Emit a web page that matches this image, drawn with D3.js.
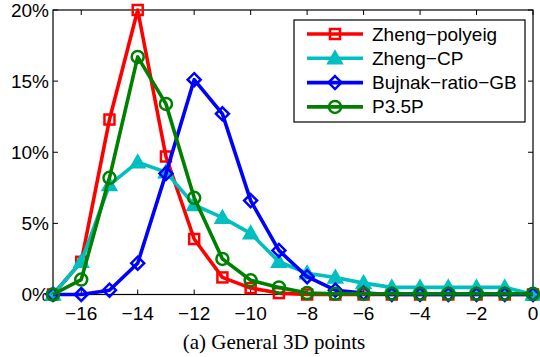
<!DOCTYPE html>
<html><head><meta charset="utf-8">
<script src="https://cdn.jsdelivr.net/npm/d3@7"></script>
<style>body{margin:0;background:#fff}svg{display:block}</style>
</head><body>
<script>
const xs = [-17,-16,-15,-14,-13,-12,-11,-10,-9,-8,-7,-6,-5,-4,-3,-2,-1,0];
const zhengPolyeig = [0,2.3,12.3,20,9.7,3.9,1.2,0.45,0.1,0,0,0,0,0,0,0,0,0];
const zhengCP      = [0,2.3,7.7,9.3,8.6,6.3,5.4,4.3,2.3,1.5,1.2,0.8,0.5,0.5,0.5,0.5,0.5,0];
const bujnak       = [0,0,0.3,2.2,8.5,15.1,12.7,6.6,3.1,1.25,0.3,0.1,0,0,0,0,0,0];
const p35p         = [0,1.05,8.2,16.7,13.4,6.8,2.5,1.0,0.5,0.1,0.05,0.05,0.05,0.05,0.05,0.05,0.05,0.05];
const seriesNames = ["Zheng\u2212polyeig","Zheng\u2212CP","Bujnak\u2212ratio\u2212GB","P3.5P"];
const seriesColors = ["#ff0000","#00bfbf","#0000ff","#008000"];
const seriesMarkers = ["square","triangle","diamond","circle"];
const xTicks = [-16,-14,-12,-10,-8,-6,-4,-2,0];
const yTicks = [0,5,10,15,20];
const caption = "(a) General 3D points";

const W=540,H=357;
const m={l:53,r:7,t:10,b:62.5};
const svg=d3.select("body").append("svg").attr("width",W).attr("height",H);
const x=d3.scaleLinear().domain([-17,0]).range([m.l,W-m.r]);
const y=d3.scaleLinear().domain([0,20]).range([H-m.b,m.t]);
const font="'Liberation Sans', Arial, sans-serif";
const fs=19;

// axes box
const g=svg.append("g");
const tl=5;
xTicks.forEach(t=>{
  g.append("line").attr("x1",x(t)).attr("x2",x(t)).attr("y1",y(0)).attr("y2",y(0)-tl).attr("stroke","#000");
  g.append("line").attr("x1",x(t)).attr("x2",x(t)).attr("y1",y(20)).attr("y2",y(20)+tl).attr("stroke","#000");
  g.append("text").attr("x",x(t)).attr("y",y(0)+25).attr("text-anchor","middle")
   .attr("font-family",font).attr("font-size",fs).text(d3.format("d")(t));
});
yTicks.forEach(t=>{
  g.append("line").attr("x1",x(-17)).attr("x2",x(-17)+tl).attr("y1",y(t)).attr("y2",y(t)).attr("stroke","#000");
  g.append("line").attr("x1",x(0)).attr("x2",x(0)-tl).attr("y1",y(t)).attr("y2",y(t)).attr("stroke","#000");
  g.append("text").attr("x",x(-17)-4).attr("y",y(t)+6.5).attr("text-anchor","end")
   .attr("font-family",font).attr("font-size",fs).text(t+"%");
});
g.append("rect").attr("x",x(-17)).attr("y",y(20)).attr("width",x(0)-x(-17)).attr("height",y(0)-y(20))
 .attr("fill","none").attr("stroke","#000").attr("stroke-width",1.2);

function marker(sel,type,color,cx,cy){
  if(type==="square"){
    sel.append("rect").attr("x",cx-5).attr("y",cy-5).attr("width",10).attr("height",10)
      .attr("fill","none").attr("stroke",color).attr("stroke-width",2.5);
  } else if(type==="triangle"){
    const s=7;
    sel.append("path").attr("d",`M${cx},${cy-s}L${cx+s},${cy+s*0.75}L${cx-s},${cy+s*0.75}Z`)
      .attr("fill",color).attr("stroke",color).attr("stroke-width",2);
  } else if(type==="diamond"){
    const s=6.5;
    sel.append("path").attr("d",`M${cx},${cy-s}L${cx+s},${cy}L${cx},${cy+s}L${cx-s},${cy}Z`)
      .attr("fill","none").attr("stroke",color).attr("stroke-width",2.5);
  } else {
    sel.append("circle").attr("cx",cx).attr("cy",cy).attr("r",6)
      .attr("fill","none").attr("stroke",color).attr("stroke-width",2.5);
  }
}

const data=[zhengPolyeig,zhengCP,bujnak,p35p];
const line=d3.line().x((d,i)=>x(xs[i])).y(d=>y(d));
data.forEach((vals,k)=>{
  const sg=svg.append("g");
  sg.append("path").datum(vals).attr("d",line).attr("fill","none")
    .attr("stroke",seriesColors[k]).attr("stroke-width",3.6).attr("stroke-linejoin","round");
  vals.forEach((v,i)=>marker(sg,seriesMarkers[k],seriesColors[k],x(xs[i]),y(v)));
});

// legend
const lg=svg.append("g");
lg.append("rect").attr("x",294).attr("y",20).attr("width",231).attr("height",102)
  .attr("fill","#fff").attr("stroke","#000").attr("stroke-width",1.2);
seriesNames.forEach((n,k)=>{
  const ly=34+k*24.3;
  lg.append("line").attr("x1",307).attr("x2",363).attr("y1",ly).attr("y2",ly)
    .attr("stroke",seriesColors[k]).attr("stroke-width",3.6);
  marker(lg,seriesMarkers[k],seriesColors[k],335,ly);
  lg.append("text").attr("x",372).attr("y",ly+6.5).attr("font-family",font).attr("font-size",fs).text(n);
});

svg.append("text").attr("x",274).attr("y",349).attr("text-anchor","middle")
  .attr("font-family","'Liberation Serif', 'Times New Roman', serif").attr("font-size",21).text(caption);
</script>
</body></html>
